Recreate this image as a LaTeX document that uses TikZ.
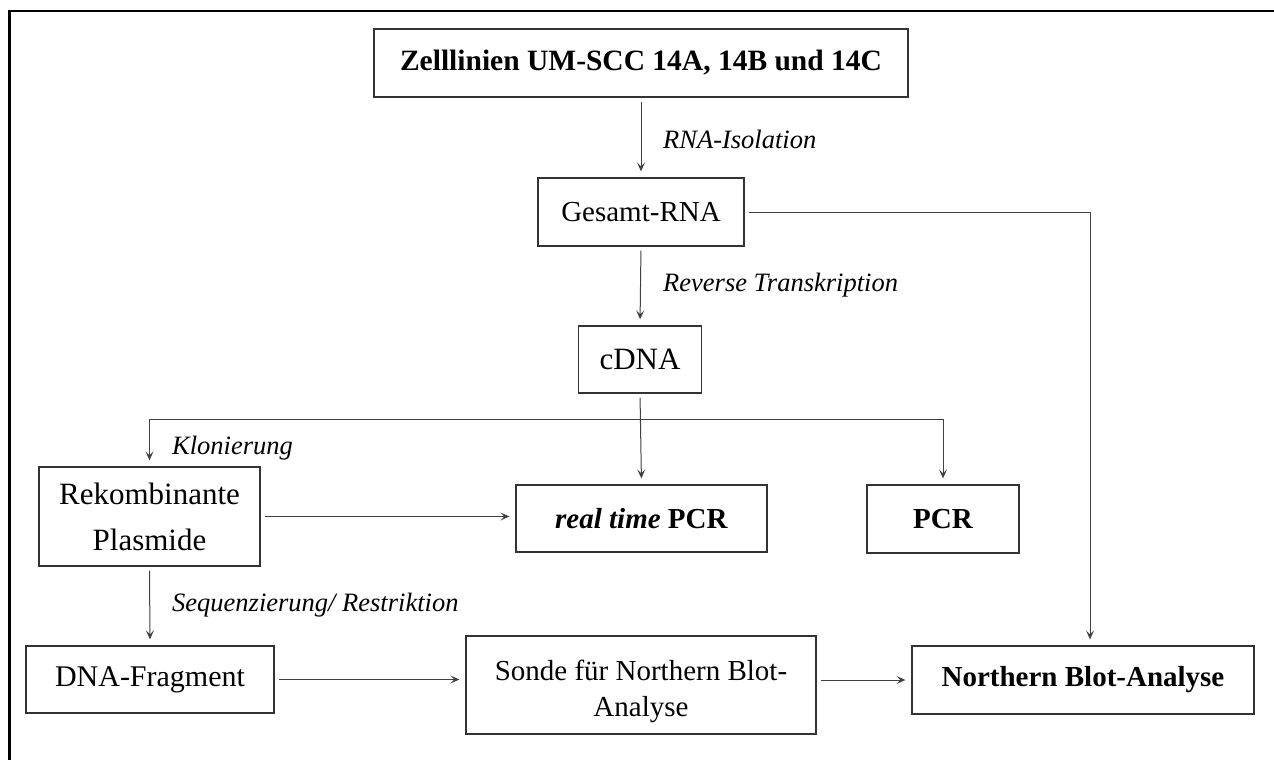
\documentclass[tikz,border=0pt]{standalone}
\usepackage{fontspec}
\setmainfont{Liberation Serif}
\usetikzlibrary{arrows.meta,calc}
\begin{document}
\begin{tikzpicture}[x=1pt,y=-1pt,
  box/.style={draw=black!80, line width=1.3pt, rectangle, inner sep=0pt, align=center,
    font=\fontsize{29}{37}\selectfont},
  txt/.style={inner sep=0pt, align=center, font=\fontsize{29}{37}\selectfont},
  lab/.style={font=\fontsize{26.5}{30}\selectfont\itshape, anchor=west, inner sep=0pt},
  conn/.style={draw=black!75, line width=1pt, -{Stealth[length=9pt,width=8pt,inset=4pt]},
    shorten >=6pt, shorten <=4pt}]
\useasboundingbox (0,0) rectangle (1274,760);
% frame
\draw[line width=2.5pt] (9.5,760) -- (9.5,11) -- (1274,11);
% nodes
\node[box, minimum width=534, minimum height=68, font=\fontsize{29.5}{37}\selectfont\bfseries] (zell) at (641,63) {Zelllinien UM-SCC 14A, 14B und 14C};
\node[box, minimum width=206, minimum height=68] (gesamt) at (641,212) {Gesamt-RNA};
\node[box, minimum width=123, minimum height=67, font=\fontsize{31}{37}\selectfont] (cdna) at (640,359.5) {cDNA};
\node[box, minimum width=221, minimum height=99] (rekomb) at (149.5,516.5) {};
\node[txt, font=\fontsize{31}{46}\selectfont] (rekombtxt) at (149.5,517) {Rekombinante\\Plasmide};
\node[box, minimum width=251, minimum height=67] (rtpcr) at (641.5,518.5) {\textbf{\textit{real time} PCR}};
\node[box, minimum width=152, minimum height=68, font=\fontsize{29}{37}\selectfont\bfseries] (pcr) at (943,519) {PCR};
\node[box, minimum width=248, minimum height=67, font=\fontsize{30}{37}\selectfont] (dna) at (150,679.5) {DNA-Fragment};
\node[box, minimum width=350, minimum height=98] (sonde) at (641,685) {};
\node[txt, font=\fontsize{29}{36}\selectfont] (sondetxt) at (641,691) {Sonde für Northern Blot-\\Analyse};
\node[box, minimum width=342, minimum height=68, font=\fontsize{29}{37}\selectfont\bfseries] (north) at (1083,680) {Northern Blot-Analyse};
% labels
\node[lab] (l1) at (663,139) {RNA-Isolation};
\node[lab] (l2) at (663,285) {Reverse Transkription};
\node[lab] (l3) at (172,448) {Klonierung};
\node[lab] (l4) at (172,605) {Sequenzierung/ Restriktion};
% connectors
\draw[conn] (zell.south) -- (gesamt.north);
\draw[conn] (gesamt.south) -- (cdna.north);
\coordinate (br) at (641,419);
\draw[conn] (cdna.south) -- (rtpcr.north);
\draw[conn, shorten <=0pt] (br) -| (rekomb.north);
\draw[conn, shorten <=0pt] (br) -| (pcr.north);
\draw[conn] (gesamt.east) -| ([xshift=7]north.north);
\draw[conn] (rekomb.east) -- (rekomb.east -| rtpcr.west);
\draw[conn] (rekomb.south) -- (dna.north);
\draw[conn] (dna.east) -- (dna.east -| sonde.west);
\draw[conn] (sonde.east |- north.west) -- (north.west);
\end{tikzpicture}
\end{document}
